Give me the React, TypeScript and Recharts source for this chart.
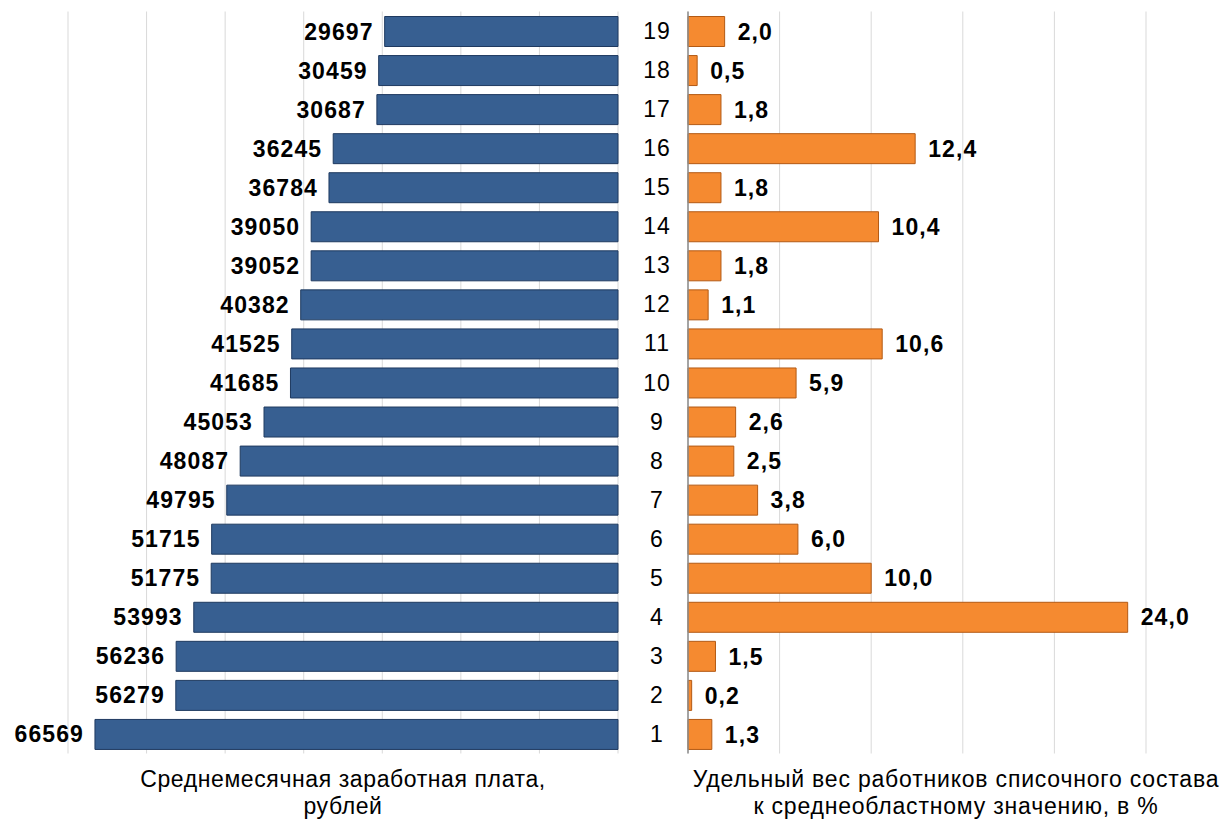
import { BarChart, Bar, XAxis, YAxis, CartesianGrid, LabelList } from 'recharts';

const regions = ['1', '2', '3', '4', '5', '6', '7', '8', '9', '10', '11', '12', '13', '14', '15', '16', '17', '18', '19'];
const salary = [66569, 56279, 56236, 53993, 51775, 51715, 49795, 48087, 45053, 41685, 41525, 40382, 39052, 39050, 36784, 36245, 30687, 30459, 29697];
const share = [1.3, 0.2, 1.5, 24.0, 10.0, 6.0, 3.8, 2.5, 2.6, 5.9, 10.6, 1.1, 1.8, 10.4, 1.8, 12.4, 1.8, 0.5, 2.0];
const salaryTicks = [0, 10000, 20000, 30000, 40000, 50000, 60000, 70000];
const shareTicks = [0, 5, 10, 15, 20, 25];

const data = regions.map((r, i) => ({ region: r, salary: salary[i], share: share[i] }));

const FONT = '"Liberation Sans", Arial, sans-serif';
const labelStyle = { fontFamily: FONT, fontSize: 23, fontWeight: 700, fill: '#000', letterSpacing: 1.1 };

const fmtShare = (v: number) => v.toFixed(1).replace('.', ',');

const RegionTick = ({ x, y, payload }: any) => (
  <text x={x - 31} y={y} textAnchor="middle" dominantBaseline="central"
    style={{ fontFamily: FONT, fontSize: 23, fill: '#000', letterSpacing: 1 }}>
    {payload.value}
  </text>
);

// label placed left of the bar end (axis is reversed, so width can be negative)
const SalaryLabel = ({ x, y, width, height, value }: any) => {
  const left = Math.min(Number(x), Number(x) + Number(width));
  return (
    <text x={left - 11} y={Number(y) + Number(height) / 2} textAnchor="end" dominantBaseline="central" style={labelStyle}>
      {value}
    </text>
  );
};

export default function App() {
  return (
    <div style={{ position: 'absolute', left: 0, top: 0, width: 1228, height: 820, background: '#fff', fontFamily: FONT }}>
      <div style={{ position: 'absolute', left: 0, top: 0 }}>
        <BarChart width={640} height={820} data={data} layout="vertical"
          margin={{ top: 11.5, right: 22, bottom: 66.5, left: 68 }}>
          <CartesianGrid horizontal={false} stroke="#d9d9d9" />
          <XAxis type="number" hide reversed domain={[0, 70000]} ticks={salaryTicks} />
          <YAxis type="category" dataKey="region" hide reversed />
          <Bar dataKey="salary" fill="#375f91" stroke="#1f3a60" strokeWidth={1} barSize={30} isAnimationActive={false}>
            <LabelList dataKey="salary" content={<SalaryLabel />} />
          </Bar>
        </BarChart>
      </div>
      <div style={{ position: 'absolute', left: 620, top: 0 }}>
        <BarChart width={608} height={820} data={data} layout="vertical"
          margin={{ top: 11.5, right: 82, bottom: 66.5, left: 0 }}>
          <CartesianGrid horizontal={false} stroke="#d9d9d9" />
          <XAxis type="number" hide domain={[0, 25]} ticks={shareTicks} />
          <YAxis type="category" dataKey="region" reversed width={68} tickLine={false} tickSize={0} tickMargin={0}
            axisLine={{ stroke: '#8c8c8c', strokeWidth: 1.5 }} tick={<RegionTick />} interval={0} />
          <Bar dataKey="share" fill="#f58a30" stroke="#b35a14" strokeWidth={1} barSize={30} isAnimationActive={false}>
            <LabelList dataKey="share" position="right" offset={13} formatter={(v: any) => fmtShare(Number(v))} style={labelStyle} />
          </Bar>
        </BarChart>
      </div>
      <div style={{ position: 'absolute', left: 43, top: 766, width: 600, textAlign: 'center', fontSize: 23, lineHeight: '27px', letterSpacing: 0.6, color: '#000' }}>
        Среднемесячная заработная плата,<br />рублей
      </div>
      <div style={{ position: 'absolute', left: 656, top: 766, width: 600, textAlign: 'center', fontSize: 23, lineHeight: '27px', letterSpacing: 0.8, color: '#000' }}>
        Удельный вес работников списочного состава<br />к среднеобластному значению, в %
      </div>
    </div>
  );
}
